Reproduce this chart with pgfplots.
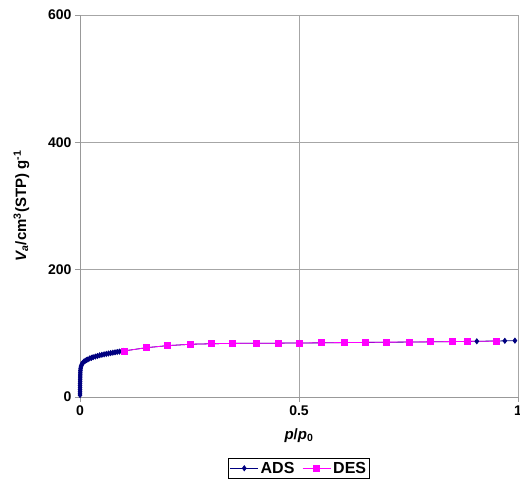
\documentclass[border=0pt]{standalone}
\usepackage{pgfplots}
\pgfplotsset{compat=1.18}
\usepackage{fontspec}
\setmainfont{Liberation Sans}
\definecolor{adsc}{RGB}{0,0,128}
\definecolor{desc}{RGB}{255,0,255}
\begin{document}
\begin{tikzpicture}[x=1pt,y=1pt]
\begin{axis}[name=ax,
  scale only axis, width=438pt, height=382pt,
  xmin=0, xmax=1, ymin=0, ymax=600,
  xtick={0,0.5,1}, xticklabels={0,0.5,1},
  ytick={0,200,400,600},
  grid=major, grid style={gray!70, line width=0.6pt},
  axis line style={gray!80, line width=0.6pt},
  tick style={gray!80, line width=0.6pt},
  tick align=outside, major tick length=5pt,
  axis x line*=bottom, axis y line*=left,
  tick label style={font=\fontsize{14}{15}\selectfont\bfseries},
  /pgf/number format/assume math mode=true,
  xlabel={\bfseries\itshape p\upshape/\itshape p\upshape\textsubscript{0}},
  ylabel={\bfseries\itshape V\textsubscript{a}\upshape/cm\textsuperscript{3}(STP) g\textsuperscript{-1}},
  label style={font=\fontsize{15}{16}\selectfont},
  xlabel style={yshift=-6pt},
  ylabel style={yshift=12pt},
  legend style={at={(0.5,-0.16)}, anchor=north, legend columns=2,
    font=\fontsize{16}{17}\selectfont\bfseries, draw=black, line width=0.6pt,
    inner sep=1.5pt, /tikz/every even column/.append style={column sep=6pt}},
  legend image code/.code={\draw[#1] (0pt,0pt) -- (28pt,0pt); \draw[#1, mark repeat=2, mark phase=2] plot coordinates {(0pt,0pt) (14pt,0pt) (28pt,0pt)};},
  legend image post style={line width=0.8pt},
]
\addplot[color=adsc, line width=0.8pt, mark=diamond*, mark size=2.5pt, mark options={fill=adsc}] coordinates {
(0.0001,3) (0.0001,6) (0.0001,9) (0.0001,12) (0.0002,15) (0.0002,18) (0.0002,21) (0.0003,24) (0.0003,27) (0.0004,30) (0.0005,33) (0.0006,36) (0.0008,39) (0.0010,42) (0.0014,44.5) (0.002,47) (0.003,49) (0.004,51) (0.005,52.5) (0.007,54) (0.009,55.5) (0.012,57) (0.015,58) (0.018,59) (0.022,60.5) (0.026,61.5) (0.030,62.5) (0.035,63.5) (0.040,64.5) (0.045,65.5) (0.050,66.3) (0.055,67) (0.060,67.7) (0.065,68.3) (0.070,69) (0.075,69.6) (0.080,70.2) (0.085,70.8) (0.090,71.3) (0.095,71.8) (0.100,72.3)
(0.151,77.4) (0.199,80.6) (0.251,82.8) (0.301,83.7) (0.349,84.2) (0.402,84.4) (0.453,84.6) (0.502,84.8) (0.552,85.1) (0.603,85.4) (0.651,85.7) (0.700,86.0) (0.751,86.3) (0.801,86.6) (0.851,87.0) (0.906,87.5) (0.970,88.2) (0.993,88.5)
};
\addlegendentry{ADS}
\addplot[color=desc, line width=0.8pt, mark=square*, mark size=3pt, mark options={fill=desc}] coordinates {
(0.101,72.3) (0.151,77.4) (0.199,80.6) (0.251,82.8) (0.301,83.7) (0.349,84.2) (0.402,84.4) (0.453,84.6) (0.502,84.8) (0.552,85.2) (0.603,85.5) (0.651,85.8) (0.700,86.1) (0.751,86.4) (0.801,86.7) (0.851,87.1) (0.884,87.4) (0.951,87.8)
};
\addlegendentry{DES}
\end{axis}
\pgfresetboundingbox
\path ([shift={(-80pt,-87pt)}]ax.south west) rectangle ([shift={(2pt,15pt)}]ax.north east);
\end{tikzpicture}
\end{document}
